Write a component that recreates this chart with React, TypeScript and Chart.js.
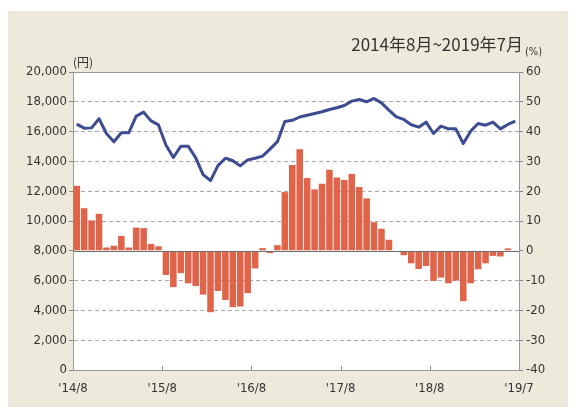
import React, { useEffect, useRef } from 'react';
import { Chart, registerables } from 'chart.js';

Chart.register(...registerables);

const months = [
  '2014/8','2014/9','2014/10','2014/11','2014/12','2015/1','2015/2','2015/3','2015/4','2015/5','2015/6','2015/7',
  '2015/8','2015/9','2015/10','2015/11','2015/12','2016/1','2016/2','2016/3','2016/4','2016/5','2016/6','2016/7',
  '2016/8','2016/9','2016/10','2016/11','2016/12','2017/1','2017/2','2017/3','2017/4','2017/5','2017/6','2017/7',
  '2017/8','2017/9','2017/10','2017/11','2017/12','2018/1','2018/2','2018/3','2018/4','2018/5','2018/6','2018/7',
  '2018/8','2018/9','2018/10','2018/11','2018/12','2019/1','2019/2','2019/3','2019/4','2019/5','2019/6','2019/7',
];

// 価格（円） — left axis
const priceYen = [
  16500, 16230, 16250, 16860, 15870, 15315, 15920, 15920, 17040, 17305, 16720, 16450,
  15100, 14260, 15020, 15020, 14250, 13110, 12715, 13720, 14215, 14045, 13700, 14100,
  14215, 14355, 14825, 15325, 16680, 16760, 16980, 17100, 17215, 17330, 17485, 17600,
  17755, 18045, 18155, 18000, 18225, 17930, 17440, 16990, 16815, 16460, 16300, 16635,
  15870, 16365, 16185, 16185, 15200, 16030, 16545, 16430, 16635, 16185, 16480, 16700,
];

// 前年同月比（%） — right axis
const changePct = [
  21.8, 14.3, 10.2, 12.4, 1.1, 1.7, 5.0, 1.1, 7.8, 7.6, 2.3, 1.5,
  -8.1, -12.2, -7.5, -10.9, -11.8, -14.7, -20.6, -13.5, -16.5, -18.9, -18.7, -14.2,
  -5.9, 0.9, -0.8, 1.9, 19.7, 28.8, 34.1, 24.4, 20.6, 22.5, 27.2, 24.6,
  23.8, 25.8, 21.4, 17.6, 9.6, 7.4, 3.7, 0, -1.5, -4.2, -6.1, -5.1,
  -10.1, -9.0, -10.9, -10.0, -16.9, -10.9, -6.2, -4.2, -1.7, -1.9, 0.8, 0.2,
];

const xTickIndex = [0, 12, 24, 36, 48, 60];
const xTickLabels = ["'14/8", "'15/8", "'16/8", "'17/8", "'18/8", "'19/7"];

const titleText = '2014年8月~2019年7月';
const leftUnit = '(円)';
const rightUnit = '(%)';

const BG = '#EDEADB';
const LINE = '#3D4B92';
const BAR = '#E0644A';
const FONT = "'DejaVu Sans Condensed', 'Liberation Sans Narrow', 'DejaVu Sans', sans-serif";

const fmt = (v: number) => String(v).replace(/\B(?=(\d{3})+(?!\d))/g, ',');

const decor = {
  id: 'decor',
  beforeDraw(chart: any) {
    const { ctx, chartArea: a, width, height } = chart;
    ctx.save();
    ctx.fillStyle = BG;
    ctx.fillRect(0, 0, width, height);
    ctx.fillStyle = '#ffffff';
    ctx.fillRect(a.left, a.top, a.right - a.left, a.bottom - a.top);
    ctx.restore();
  },
  afterDatasetsDraw(chart: any) {
    const { ctx, chartArea: a } = chart;
    const y0 = Math.round(chart.scales.y1.getPixelForValue(0)) + 0.5;
    ctx.save();
    ctx.strokeStyle = '#6e6e6e';
    ctx.lineWidth = 1;
    ctx.beginPath();
    ctx.moveTo(a.left, y0);
    ctx.lineTo(a.right, y0);
    ctx.stroke();
    // inner tick marks on the x axis
    const xs = chart.scales.xt;
    ctx.strokeStyle = '#888';
    xTickIndex.slice(1, -1).forEach((v) => {
      const px = Math.round(xs.getPixelForValue(v)) + 0.5;
      ctx.beginPath();
      ctx.moveTo(px, a.bottom);
      ctx.lineTo(px, a.bottom - 4);
      ctx.stroke();
    });
    ctx.restore();
  },
  afterDraw(chart: any) {
    const { ctx, chartArea: a } = chart;
    ctx.save();
    ctx.fillStyle = '#333';
    ctx.textBaseline = 'middle';
    ctx.font = "17px 'Noto Sans CJK JP', sans-serif";
    ctx.textAlign = 'right';
    ctx.fillText(titleText, a.right + 4, 34);
    ctx.font = "11px " + FONT;
    ctx.textAlign = 'left';
    ctx.fillText(rightUnit, a.right + 6, 41);
    ctx.font = "12px 'Noto Sans CJK JP', sans-serif";
    ctx.fillText(leftUnit, a.left, 51);
    ctx.restore();
  },
};

export default function App() {
  const ref = useRef<HTMLCanvasElement | null>(null);
  useEffect(() => {
    if (!ref.current) return;
    const chart = new Chart(ref.current, {
      type: 'bar',
      data: {
        labels: months,
        datasets: [
          {
            type: 'line',
            data: priceYen,
            yAxisID: 'y',
            xAxisID: 'x',
            borderColor: LINE,
            borderWidth: 3,
            pointRadius: 0,
            tension: 0,
            borderJoinStyle: 'round',
            order: 0,
          } as any,
          {
            type: 'bar',
            data: changePct,
            yAxisID: 'y1',
            xAxisID: 'x',
            backgroundColor: BAR,
            barPercentage: 0.88,
            categoryPercentage: 1,
            order: 1,
          },
        ],
      },
      options: {
        responsive: false,
        animation: false,
        layout: { padding: { top: 61, left: 0, right: 0, bottom: 0 } },
        plugins: { legend: { display: false }, tooltip: { enabled: false } },
        scales: {
          x: { type: 'category', display: false, offset: true },
          xt: {
            type: 'linear',
            position: 'bottom',
            offset: false,
            min: 0,
            max: 60,
            grid: { display: false, offset: false },
            border: { display: true, color: '#999' },
            afterBuildTicks: (s: any) => { s.ticks = xTickIndex.map((v) => ({ value: v })); },
            afterFit: (s: any) => { s.height = 37; },
            ticks: {
              padding: 3,
              autoSkip: false,
              maxRotation: 0,
              color: '#333',
              font: { family: FONT, size: 13 },
              callback: (v: any) => {
                const k = xTickIndex.indexOf(Number(v));
                return k >= 0 ? xTickLabels[k] : '';
              },
            },
          } as any,
          y: {
            type: 'linear',
            position: 'left',
            min: 0,
            max: 20000,
            afterFit: (s: any) => { s.width = 65; },
            grid: {
              color: (c: any) => {
                const v = c.tick ? c.tick.value : -1;
                if (v === 8000) return 'rgba(0,0,0,0)';
                if (v === 20000) return '#999';
                return '#a8a8a8';
              },
              tickColor: '#888',
              tickLength: 4,
              lineWidth: 1,
            },
            border: {
              display: true,
              color: '#999',
              dash: (c: any) => {
                if (!c.tick) return [];
                const v = c.tick.value;
                return v === 20000 || v === 0 ? [] : [4, 3];
              },
            } as any,
            ticks: {
              stepSize: 2000,
              padding: 2,
              color: '#333',
              font: { family: FONT, size: 13 },
              callback: (v: any) => fmt(Number(v)),
            },
          },
          y1: {
            type: 'linear',
            position: 'right',
            min: -40,
            max: 60,
            afterFit: (s: any) => { s.width = 57; },
            grid: { drawOnChartArea: false, tickColor: '#888', tickLength: 4 },
            border: { display: true, color: '#999' },
            ticks: {
              stepSize: 10,
              padding: 3,
              color: '#333',
              font: { family: FONT, size: 13 },
            },
          },
        },
      },
      plugins: [decor],
    });
    return () => chart.destroy();
  }, []);
  return (
    <div style={{ marginTop: 3 }}>
      <canvas ref={ref} width={568} height={396} style={{ display: 'block' }} />
    </div>
  );
}
